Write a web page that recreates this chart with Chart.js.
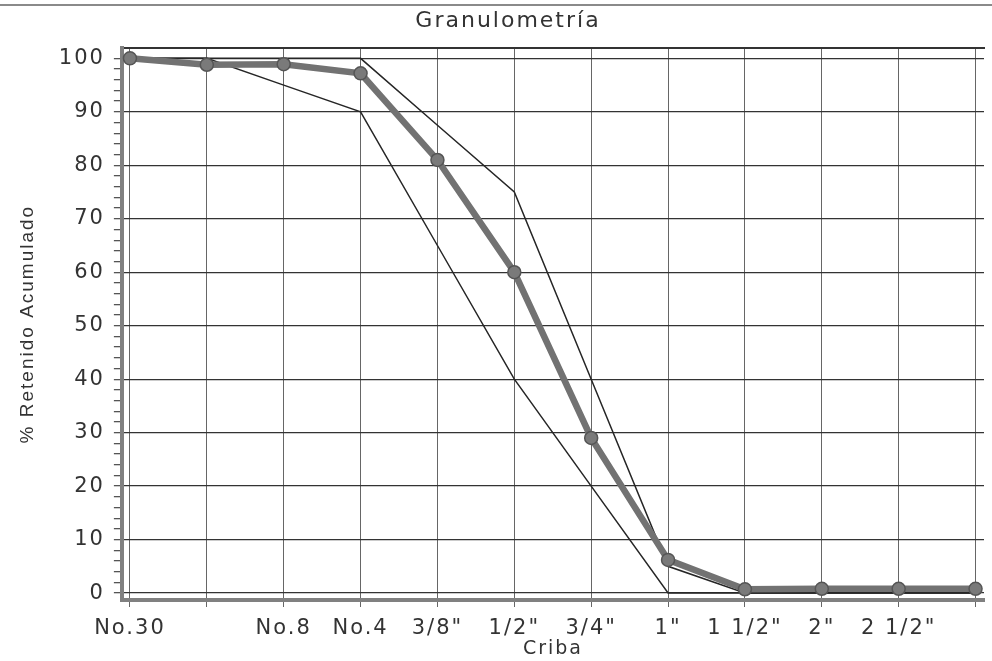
<!DOCTYPE html>
<html><head><meta charset="utf-8">
<script src="https://cdn.jsdelivr.net/npm/chart.js@4.4.0/dist/chart.umd.min.js"></script>
<style>
html,body{margin:0;padding:0;background:#fff;overflow:hidden}
#wrap{position:relative;width:992px;height:661px}
#rule{position:absolute;left:0;top:4px;width:992px;height:0;border-top:2px solid #8a8a8a}
canvas{position:absolute;left:0;top:0}
</style></head><body>
<div id="wrap"><canvas id="c" width="992" height="661"></canvas><div id="rule"></div></div>
<script>
const categories = ['No.30','No.16','No.8','No.4','3/8"','1/2"','3/4"','1"','1 1/2"','2"','2 1/2"','3"'];
const tickLabels = ['No.30','','No.8','No.4','3/8"','1/2"','3/4"','1"','1 1/2"','2"','2 1/2"',''];
const retenido = [100, 98.8, 98.9, 97.2, 81, 60, 29, 6.2, 0.7, 0.8, 0.8, 0.8];
const limiteSuperior = [100, 100, 100, 100, 87.5, 75, 40, 5, 0, 0, 0, 0];
const limiteInferior = [100, 100, 95, 90, 65, 40, 20, 0, 0, 0, 0, 0];
const yMajorTicks = [0, 10, 20, 30, 40, 50, 60, 70, 80, 90, 100];
const yMinorStep = 2;

const toPoints = arr => arr.map((v, i) => ({x: i, y: v}));

const spacing = '2px';
const lsPlugin = {
  id: 'ls',
  beforeInit(c){ c.ctx.letterSpacing = spacing; },
  beforeUpdate(c){ c.ctx.letterSpacing = spacing; },
  beforeLayout(c){ c.ctx.letterSpacing = spacing; },
  beforeDraw(c){ c.ctx.letterSpacing = spacing; }
};

const tickFont = {family: 'DejaVu Sans', size: 21, lineHeight: 1};

new Chart(document.getElementById('c'), {
  type: 'line',
  data: {
    datasets: [
      {label: 'Retenido', data: toPoints(retenido), borderColor: '#727272', borderWidth: 6.5,
       pointRadius: 6.5, pointBackgroundColor: '#7a7a7a', pointBorderColor: '#555', pointBorderWidth: 1.5, order: 0},
      {label: 'Límite superior', data: toPoints(limiteSuperior), borderColor: '#262626', borderWidth: 1.5, pointRadius: 0, order: 1},
      {label: 'Límite inferior', data: toPoints(limiteInferior), borderColor: '#262626', borderWidth: 1.5, pointRadius: 0, order: 1}
    ]
  },
  options: {
    responsive: false, animation: false, devicePixelRatio: 1,
    layout: {padding: {left: 24, right: 0, top: 0, bottom: 0}},
    plugins: {
      legend: {display: false}, tooltip: {enabled: false},
      title: {display: true, text: 'Granulometría', color: '#333',
        font: {family: 'DejaVu Sans', size: 22, weight: 'normal', lineHeight: 1.1}, padding: {top: 9, bottom: 15}}
    },
    scales: {
      x: {
        type: 'linear', min: -0.105, max: 11.11,
        afterBuildTicks: s => { s.ticks = categories.map((c, i) => ({value: i})); },
        ticks: {callback: v => tickLabels[v], color: '#333', font: tickFont, padding: 11, maxRotation: 0, autoSkip: false},
        grid: {color: '#666', lineWidth: 1, tickLength: 7, tickColor: '#666', borderDash: [3, 2]},
        border: {display: true, color: '#808080', width: 4},
        title: {display: true, text: 'Criba', color: '#333', font: {family: 'DejaVu Sans', size: 19, lineHeight: 1}, padding: {top: -10, bottom: 2}}
      },
      xTop: {
        type: 'linear', position: 'top', min: 0, max: 1,
        ticks: {display: false}, grid: {display: false, drawTicks: false},
        border: {display: true, color: '#333', width: 2}
      },
      y: {
        min: -1.3, max: 101.9,
        afterBuildTicks: s => {
          const t = [];
          for (let v = yMajorTicks[0]; v <= yMajorTicks[yMajorTicks.length - 1]; v += yMinorStep) t.push({value: v});
          s.ticks = t;
        },
        ticks: {callback: v => yMajorTicks.includes(v) ? v : '', color: '#333', font: tickFont, padding: 9, autoSkip: false},
        grid: {color: c => (c.tick && yMajorTicks.includes(c.tick.value)) ? '#333' : 'rgba(0,0,0,0)',
               lineWidth: 1.3, tickLength: 8, tickColor: '#555'},
        border: {display: true, color: '#808080', width: 4},
        title: {display: true, text: '% Retenido Acumulado', color: '#333',
          font: {family: "'Liberation Sans'", size: 19, lineHeight: 1.2}, padding: {top: -8, bottom: 11}}
      }
    }
  },
  plugins: [lsPlugin]
});
</script>
</body></html>
